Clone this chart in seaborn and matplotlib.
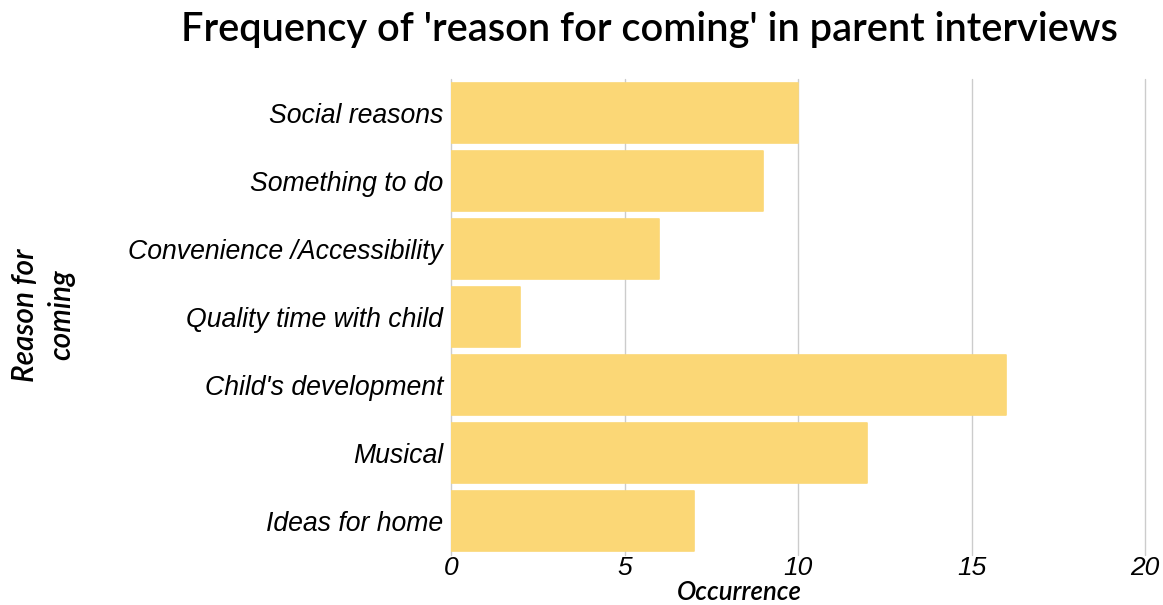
import matplotlib
matplotlib.use("Agg")
import matplotlib.pyplot as plt
import seaborn as sns
import pandas as pd

reasons = [
    "Social reasons",
    "Something to do",
    "Convenience /Accessibility",
    "Quality time with child",
    "Child's development",
    "Musical",
    "Ideas for home",
]
counts = [10, 9, 6, 2, 16, 12, 7]
x_ticks = [0, 5, 10, 15, 20]

df = pd.DataFrame({"reason": reasons, "count": counts})

sns.set_theme(style="white")
plt.rcParams["font.family"] = ["Liberation Sans", "DejaVu Sans"]

W, H = 1163, 605
fig = plt.figure(figsize=(W / 100, H / 100), dpi=100)
ax = fig.add_axes([451 / W, 1 - 555 / H, (1145 - 451) / W, (555 - 79) / H])

bar_color = "#FBD776"
sns.barplot(data=df, x="count", y="reason", orient="h", color=bar_color,
            saturation=1, width=0.87, ax=ax, zorder=2)
for p in ax.patches:
    p.set_edgecolor(bar_color)
    p.set_linewidth(1.2)
    p.set_joinstyle("round")

ax.set_xlim(0, 20)
ax.set_xticks(x_ticks)
ax.set_xticklabels([str(t) for t in x_ticks], fontsize=19, style="italic",
                   color="black")
ax.tick_params(axis="y", labelsize=19.2, length=0, pad=5.5, labelcolor="black")
ax.tick_params(axis="x", length=0, pad=1)
for lbl in ax.get_yticklabels():
    lbl.set_style("italic")
ax.grid(axis="x", color="#cccccc", linewidth=1, zorder=0)
for gl in ax.get_xgridlines():
    gl.set_clip_on(False)
ax.set_axisbelow(True)
for s in ax.spines.values():
    s.set_visible(False)

ax.set_xlabel("")
ax.set_ylabel("")
fig.text(739 / W, 1 - 592.5 / H, "Occurrence", ha="center", va="center",
         fontsize=18.5, style="italic", family="Lato", fontweight="semibold",
         color="black")
fig.text(43 / W, 1 - 315 / H, "Reason for\ncoming", ha="center", va="center",
         rotation=90, fontsize=21.5, style="italic", family="Lato",
         fontweight="semibold", linespacing=1.35, color="black",
         multialignment="center")

fig.text(649 / W, 1 - 30 / H, "Frequency of 'reason for coming' in parent interviews",
         ha="center", va="center", fontsize=28.6, fontweight="semibold",
         family="Lato", color="black")

fig.savefig("out.png", dpi=100, facecolor="white")
